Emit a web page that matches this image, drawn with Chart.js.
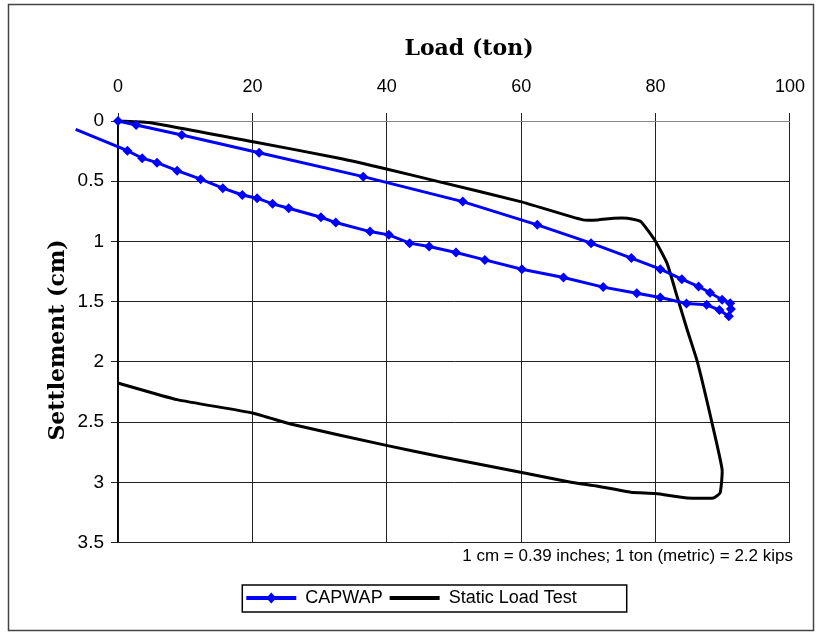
<!DOCTYPE html>
<html><head><meta charset="utf-8">
<script src="https://cdn.jsdelivr.net/npm/chart.js@4/dist/chart.umd.min.js"></script>
<style>html,body{margin:0;padding:0;background:#fff;} #wrap{width:820px;height:634px;position:relative;} canvas{display:block;}</style>
</head><body><div id="wrap"><canvas id="c" width="820" height="634" style="width:820px;height:634px"></canvas></div>
<script>
const xTitle = 'Load (ton)';
const yTitle = 'Settlement (cm)';
const noteText = '1 cm = 0.39 inches; 1 ton (metric) = 2.2 kips';
const seriesNames = ['CAPWAP', 'Static Load Test'];
const xTickLabels = ['0', '20', '40', '60', '80', '100'];
const yTickLabels = ['0', '0.5', '1', '1.5', '2', '2.5', '3', '3.5'];

const capwapLoad = [0, 2.7, 9.5, 21.0, 36.5, 51.3, 62.4, 70.4, 76.4, 80.7, 83.9, 86.4, 88.1, 89.9, 91.1, 91.2, 90.9, 89.5, 87.6, 84.6, 80.7, 77.2, 72.2, 66.3, 60.1, 54.6, 50.3, 46.3, 43.4, 40.3, 37.5, 32.4, 30.2, 25.4, 23.0, 20.7, 18.5, 15.6, 12.3, 8.8, 5.8, 3.6, 1.4, -6.3];
const capwapSettlement = [0, 0.033, 0.116, 0.263, 0.462, 0.669, 0.862, 1.014, 1.138, 1.23, 1.313, 1.374, 1.426, 1.484, 1.512, 1.56, 1.62, 1.57, 1.526, 1.515, 1.465, 1.43, 1.379, 1.299, 1.230, 1.153, 1.092, 1.042, 1.014, 0.945, 0.918, 0.843, 0.799, 0.724, 0.688, 0.641, 0.614, 0.558, 0.483, 0.412, 0.346, 0.309, 0.246, 0.069];

const staticLoad = [0, 4.8, 20.1, 32.9, 40.1, 47.7, 59.9, 69.2, 71.4, 73.8, 75.8, 77.8, 80.0, 81.7, 83.2, 84.7, 86.2, 88.4, 89.9, 89.6, 88.6, 84.7, 80.0, 76.3, 71.4, 67.4, 59.9, 47.7, 40.1, 26.0, 20.0, 8.8, 0];
const staticSettlement = [0, 0.014, 0.172, 0.309, 0.40, 0.503, 0.669, 0.821, 0.821, 0.807, 0.807, 0.835, 1.0, 1.18, 1.457, 1.733, 1.996, 2.507, 2.894, 3.087, 3.129, 3.129, 3.093, 3.082, 3.032, 2.999, 2.916, 2.783, 2.695, 2.52, 2.424, 2.313, 2.175];

const toPoints = (xs, ys) => xs.map((x, i) => ({x: x, y: ys[i]}));
const findLabel = (labels, v) => labels.find(l => Math.abs(parseFloat(l) - v) < 1e-9) ?? '';

const PAD_LEFT = 30, PAD_RIGHT = 27, PAD_TOP = 0, PAD_BOTTOM = 17;
const AREA_LEFT = 118, AREA_TOP = 121;

const decor = {
  id: 'decor',
  beforeDraw(chart) {
    const ctx = chart.ctx;
    ctx.save();
    ctx.fillStyle = '#fff';
    ctx.fillRect(0, 0, chart.width, chart.height);
    ctx.strokeStyle = '#444';
    ctx.lineWidth = 1.5;
    ctx.strokeRect(8.5, 4.5, 805, 626);
    ctx.restore();
  },
  afterDraw(chart) {
    const ctx = chart.ctx;
    ctx.save();
    ctx.fillStyle = '#000';
    ctx.font = 'bold 22px "DejaVu Serif", "Liberation Serif", serif';
    ctx.textAlign = 'center';
    ctx.textBaseline = 'middle';
    ctx.fillText(xTitle, 469, 49);
    ctx.translate(58, 340);
    ctx.rotate(-Math.PI / 2);
    ctx.fillText(yTitle, 0, 0);
    ctx.restore();
    const lg = chart.legend;
    if (lg && lg.legendHitBoxes && lg.legendHitBoxes.length) {
      const hb = lg.legendHitBoxes;
      const last = hb[hb.length - 1];
      const l = hb[0].left - 4, r = last.left + last.width + 50;
      const t = hb[0].top - 4, b = hb[0].top + hb[0].height + 5;
      ctx.save();
      ctx.strokeStyle = '#000';
      ctx.lineWidth = 1.5;
      ctx.strokeRect(l, t, r - l, b - t);
      const bw = lg.options.labels.boxWidth;
      const cx = hb[0].left + bw / 2, cy = hb[0].top + hb[0].height / 2;
      ctx.fillStyle = '#0000FF';
      ctx.beginPath();
      ctx.moveTo(cx, cy - 5.5); ctx.lineTo(cx + 5, cy); ctx.lineTo(cx, cy + 5.5); ctx.lineTo(cx - 5, cy);
      ctx.closePath(); ctx.fill();
      ctx.restore();
    }
  }
};

new Chart(document.getElementById('c'), {
  type: 'scatter',
  data: {
    datasets: [
      {
        label: seriesNames[0],
        data: toPoints(capwapLoad, capwapSettlement),
        showLine: true,
        borderColor: '#0000FF',
        backgroundColor: '#0000FF',
        borderWidth: 3,
        pointStyle: 'rectRot',
        pointRadius: ctx => (ctx.raw && ctx.raw.x < 0) ? 0 : 5,
        pointBorderWidth: 0,
        pointHoverRadius: 5,
        tension: 0,
        clip: false
      },
      {
        label: seriesNames[1],
        data: toPoints(staticLoad, staticSettlement),
        showLine: true,
        borderColor: '#000000',
        backgroundColor: '#000000',
        borderWidth: 3,
        pointRadius: 0,
        pointHoverRadius: 0,
        tension: 0.15,
        clip: false
      }
    ]
  },
  options: {
    responsive: false,
    animation: false,
    devicePixelRatio: 1,
    layout: { padding: { left: PAD_LEFT, right: PAD_RIGHT, top: PAD_TOP, bottom: PAD_BOTTOM } },
    scales: {
      x: {
        type: 'linear', position: 'top', min: 0, max: 100,
        afterFit(s) { s.height = AREA_TOP - PAD_TOP; },
        ticks: {
          stepSize: 20, padding: 15, color: '#000', maxRotation: 0, autoSkip: false,
          font: { family: '"Liberation Sans Narrow", "Arial Narrow", Arial, sans-serif', size: 18 },
          callback: v => findLabel(xTickLabels, v)
        },
        grid: { color: '#222', lineWidth: 1, tickLength: 8 },
        border: { color: '#888', width: 1 }
      },
      y: {
        type: 'linear', reverse: true, min: 0, max: 3.5,
        afterFit(s) { s.width = AREA_LEFT - PAD_LEFT; },
        ticks: {
          stepSize: 0.5, padding: 7, color: '#000', autoSkip: false,
          font: { family: 'Arial, "Liberation Sans", sans-serif', size: 19 },
          callback: v => findLabel(yTickLabels, v)
        },
        grid: { color: '#222', lineWidth: 1, tickLength: 7 },
        border: { color: '#000', width: 1.5 }
      }
    },
    plugins: {
      legend: {
        position: 'bottom', align: 'center', fullSize: true,
        labels: {
          boxWidth: 50, boxHeight: 4, padding: 7, color: '#000',
          font: { family: 'Arial, "Liberation Sans", sans-serif', size: 18 },
          generateLabels(chart) {
            const items = Chart.defaults.plugins.legend.labels.generateLabels(chart);
            items.forEach(it => { it.lineWidth = 0; it.fillStyle = it.strokeStyle; });
            return items;
          }
        }
      },
      subtitle: {
        display: true, text: noteText, position: 'bottom', align: 'end', weight: 500,
        color: '#000', font: { family: 'Arial, "Liberation Sans", sans-serif', size: 17, weight: 'normal' },
        padding: { top: 4, bottom: 15 }
      },
      title: { display: false },
      tooltip: { enabled: false }
    }
  },
  plugins: [decor]
});
</script>
</body></html>
